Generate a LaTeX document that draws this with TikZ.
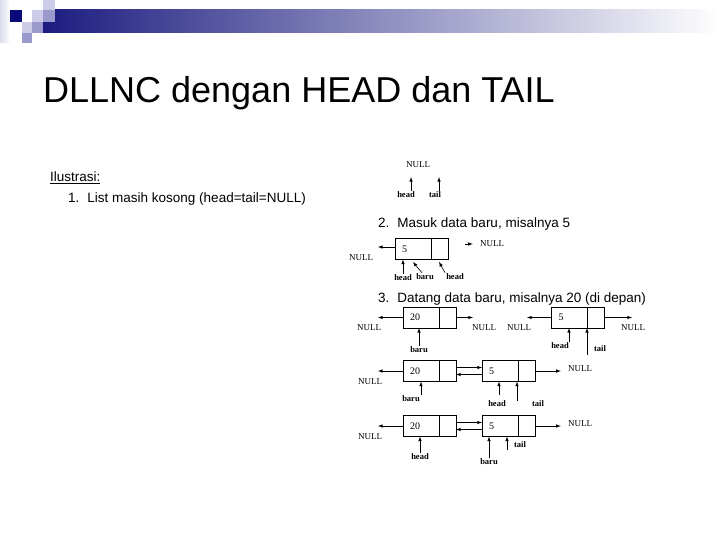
\documentclass[tikz,border=0pt]{standalone}
\usepackage{fontspec}
\setmainfont{Liberation Sans}
\newfontfamily\timesfont{Liberation Serif}
\usetikzlibrary{positioning, calc, arrows.meta}
\definecolor{barnavy}{RGB}{28,28,128}
\definecolor{sqnavy}{RGB}{10,10,120}
\definecolor{sqlight}{RGB}{204,204,232}
\definecolor{sqmid}{RGB}{153,153,204}

\begin{document}
\begin{tikzpicture}[x=1pt,y=-1pt,
    cella/.style={draw, line width=0.6pt, minimum height=21pt, inner sep=0pt, outer sep=0pt},
    isi/.style={cella, text width=22pt, inner xsep=7pt, align=left, font=\timesfont\fontsize{10}{12}\selectfont},
    ptr/.style={cella, minimum width=17pt},
    nol/.style={inner sep=1pt, font=\timesfont\fontsize{9}{10}\selectfont},
    lbl/.style={inner sep=1pt, font=\timesfont\bfseries\fontsize{8.5}{10}\selectfont},
    panah/.style={-latex, line width=0.6pt},
    teks/.style={anchor=base west, inner sep=0pt, font=\fontsize{13.5}{16}\selectfont}]
        \useasboundingbox (0,0) rectangle (720,540);
        %latar
        \shade[left color=barnavy, right color=white] (43,10) rectangle (720,33);
        \shade[left color=sqlight!70, right color=white] (0,0) rectangle (10,43);
        \fill[sqnavy] (10,10) rectangle (22,22);
        \fill[sqlight] (43,0) rectangle (55,10);
        \fill[sqlight] (32,10) rectangle (43,22);
        \fill[sqmid] (43,10) rectangle (55,22);
        \fill[sqlight] (22,22) rectangle (32,33);
        \fill[sqmid] (32,22) rectangle (43,33);
        \fill[sqmid] (22,33) rectangle (32,43);
        %judul
        \node[anchor=base west, inner sep=0pt, font=\fontsize{36}{40}\selectfont] (judul) at (43,103) {DLLNC dengan HEAD dan TAIL};
        \node[teks] (ilus) at (50,182) {\underline{Ilustrasi:}};
        %langkah 1
        \node[teks] (lang1) at (68,203) {1.\hspace{8pt}List masih kosong (head=tail=NULL)};
        \node[nol] (null1) at (418,165) {NULL};
        \node[lbl] (head1) at (406,195) {head};
        \node[lbl] (tail1) at (435,195) {tail};
        \coordinate (h1) at (411,177);
        \coordinate (t1) at (439,177);
        \draw[panah] (head1.north -| h1) -- (h1);
        \draw[panah] (tail1.north -| t1) -- (t1);
        %langkah 2
        \node[teks] (lang2) at (378,228) {2.\hspace{8pt}Masuk data baru, misalnya 5};
        \node[isi] (d2) at (413,249) {5};
        \node[ptr, right=0pt of d2] (p2) {};
        \node[nol] (nl2) at (361,258) {NULL};
        \node[nol] (nr2) at (492,244) {NULL};
        \coordinate (kl2) at (378,247);
        \coordinate (kr2) at (465,244);
        \draw[panah] (d2.west |- kl2) -- (kl2);
        \draw[panah, shorten >=6pt] (kr2) -- (kr2 -| nr2.west);
        \node[lbl] (head2) at (403,278) {head};
        \node[lbl] (baru2) at (425,277) {baru};
        \node[lbl] (head2b) at (455,277) {head};
        \coordinate (b2) at (413,262);
        \coordinate (hb2) at (439,262);
        \draw[panah] (head2.north) -- (head2.north |- d2.south);
        \draw[panah] ([xshift=-3pt]baru2.north) -- (b2);
        \draw[panah] (head2b.north west) -- (hb2);
        %langkah 3
        \node[teks] (lang3) at (378,302) {3.\hspace{8pt}Datang data baru, misalnya 20 (di depan)};
        \node[isi] (d3a) at (421,317.5) {20};
        \node[ptr, right=0pt of d3a] (p3a) {};
        \node[isi] (d3b) at (569.5,317.5) {5};
        \node[ptr, right=0pt of d3b] (p3b) {};
        \node[nol] (nl3a) at (369,328) {NULL};
        \node[nol] (nr3a) at (484,328) {NULL};
        \node[nol] (nl3b) at (519,328) {NULL};
        \node[nol] (nr3b) at (633,328) {NULL};
        \coordinate (kl3a) at (378,317.5);
        \coordinate (kr3a) at (473,317.5);
        \coordinate (kl3b) at (527,317.5);
        \coordinate (kr3b) at (632,317.5);
        \draw[panah] (d3a.west) -- (kl3a);
        \draw[panah] (p3a.east) -- (kr3a);
        \draw[panah] (d3b.west) -- (kl3b);
        \draw[panah] (p3b.east) -- (kr3b);
        \node[lbl] (baru3) at (419,350) {baru};
        \node[lbl] (head3) at (560,346) {head};
        \node[lbl] (tail3) at (600,349) {tail};
        \coordinate (h3) at (569,342);
        \coordinate (t3) at (587,355);
        \draw[panah] (baru3.north) -- (baru3.north |- d3a.south);
        \draw[panah] (h3) -- (h3 |- d3b.south);
        \draw[panah] (t3) -- (t3 |- p3b.south);
        %baris 4
        \node[isi] (d4a) at (421,371) {20};
        \node[ptr, right=0pt of d4a] (p4a) {};
        \node[isi] (d4b) at (500,371) {5};
        \node[ptr, right=0pt of d4b] (p4b) {};
        \draw[panah] ([yshift=3.5pt]p4a.east) -- ([yshift=3.5pt]d4b.west);
        \draw[panah] ([yshift=-3.5pt]d4b.west) -- ([yshift=-3.5pt]p4a.east);
        \node[nol] (nl4) at (370,382) {NULL};
        \node[nol] (nr4) at (580,369) {NULL};
        \coordinate (kl4) at (378,371);
        \draw[panah] (d4a.west) -- (kl4);
        \draw[panah, shorten >=6pt] (p4b.east) -- (p4b.east -| nr4.west);
        \node[lbl] (baru4) at (411,399) {baru};
        \node[lbl] (head4) at (497,404) {head};
        \node[lbl] (tail4) at (538,404) {tail};
        \coordinate (h4) at (499,395);
        \coordinate (t4) at (517,401);
        \draw[panah] (baru4.north -| d4a.south) -- (d4a.south);
        \draw[panah] (h4) -- (h4 |- d4b.south);
        \draw[panah] (t4) -- (t4 |- p4b.south);
        %baris 5
        \node[isi] (d5a) at (421,426) {20};
        \node[ptr, right=0pt of d5a] (p5a) {};
        \node[isi] (d5b) at (500,426) {5};
        \node[ptr, right=0pt of d5b] (p5b) {};
        \draw[panah] ([yshift=3.5pt]p5a.east) -- ([yshift=3.5pt]d5b.west);
        \draw[panah] ([yshift=-3.5pt]d5b.west) -- ([yshift=-3.5pt]p5a.east);
        \node[nol] (nl5) at (370,437) {NULL};
        \node[nol] (nr5) at (580,424) {NULL};
        \coordinate (kl5) at (378,426);
        \draw[panah] (d5a.west) -- (kl5);
        \draw[panah, shorten >=6pt] (p5b.east) -- (p5b.east -| nr5.west);
        \node[lbl] (head5) at (420,457) {head};
        \node[lbl] (baru5) at (489,462) {baru};
        \node[lbl] (tail5) at (520,445) {tail};
        \coordinate (t5) at (507,450);
        \draw[panah] (head5.north) -- (head5.north |- d5a.south);
        \draw[panah] (baru5.north) -- (baru5.north |- d5b.south);
        \draw[panah] (t5) -- (t5 |- d5b.south);
\end{tikzpicture}
\end{document}
